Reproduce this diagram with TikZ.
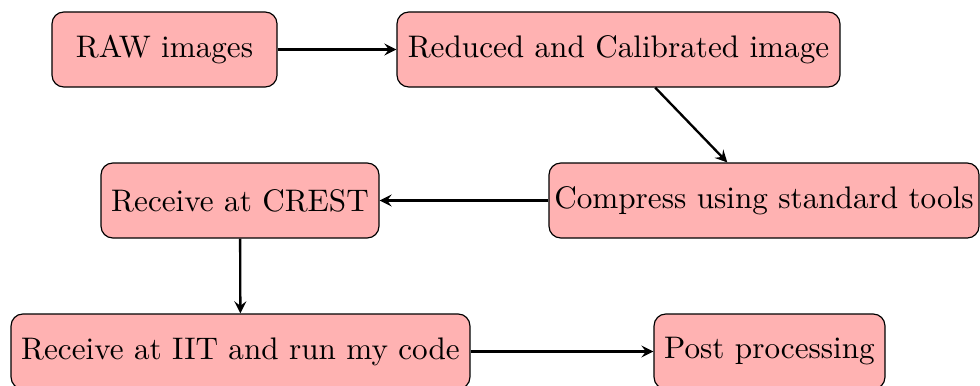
\documentclass[tikz,border=0pt]{standalone}
\usetikzlibrary{arrows}
\begin{document}
\begin{tikzpicture}[x=0.34pt,y=-0.34pt,
  box/.style={draw, fill=red!30, rounded corners=4pt, line width=0.4pt, inner sep=0pt, minimum height=25.5pt, font=\fontsize{10.6}{12.7}\selectfont},
  conn/.style={-stealth, thick}]
\useasboundingbox (0,0) rectangle (980,385);
\node[box, minimum width=76.5pt] (raw) at (164.5,49.5) {RAW images};
\node[box, minimum width=150.6pt] (red) at (618.5,49.5) {Reduced and Calibrated image};
\node[box, minimum width=146.2pt] (comp) at (764,200.5) {Compress using standard tools};
\node[box, minimum width=94.5pt] (crest) at (240,200.5) {Receive at CREST};
\node[box, minimum width=156pt] (iit) at (240.5,351.5) {Receive at IIT and run my code};
\node[box, minimum width=78.5pt] (post) at (769.5,351.5) {Post processing};
\draw[conn] (raw) -- (red);
\draw[conn] (red) -- (comp);
\draw[conn] (comp) -- (crest);
\draw[conn] (crest) -- (iit);
\draw[conn] (iit) -- (post);
\end{tikzpicture}
\end{document}
